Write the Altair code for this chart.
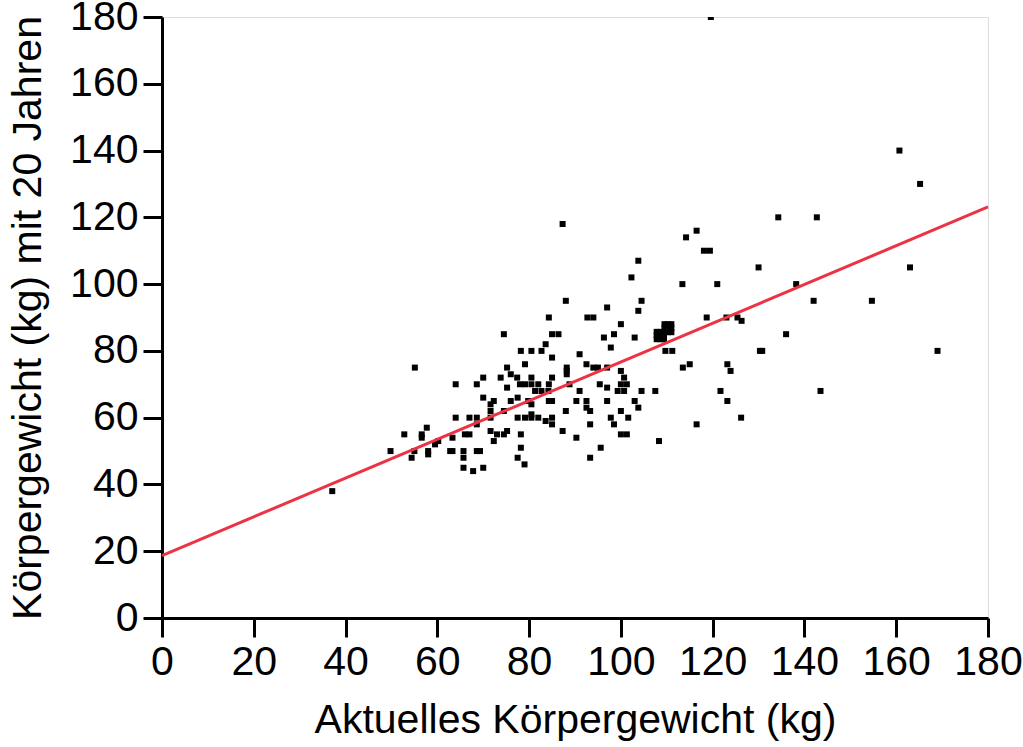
import altair as alt
import pandas as pd

# Current body weight (kg)
x_vals = [
    55.1, 64, 68.6, 64, 67, 68.6, 68.6, 57.7, 52.8, 56.6, 56.6, 60.2, 59.5, 63.3, 66, 67,
    49.8, 55, 54.4, 58, 58, 62.8, 63.3, 65.7, 65.7, 65.7, 67.8, 68.6, 37.1,
    88, 97, 84.3, 92.7, 94, 100, 74.5, 85, 86.4, 96.3, 98.5, 83.6, 97.8, 78.2, 80.5, 82.7,
    91, 79.1, 85, 92.5, 94, 95, 97, 88.2, 88.2, 88.2, 75.2, 100, 76, 70, 73.8, 77.4, 80.5,
    85, 100.7, 78, 79.1, 80.5, 82, 84.3, 88.8, 95.4, 97, 100, 101.3, 75.2, 81.3, 82.7, 84.2,
    91, 99.3, 100.7, 70, 77.5, 72.3, 76, 79.8, 84.3, 85, 90.3, 92.5, 97, 71.6, 71.6, 80.5,
    92.5, 93.3, 74.5, 88, 100, 71.6, 77.5, 79.1, 80.5, 82, 80.5, 83.6, 85, 85, 97.8, 98.5,
    101.6, 93.3, 71.6, 73, 74.5, 75.2, 78.2, 87.3, 90.3, 100, 101.3, 72.3, 69.3, 78.2, 95.6,
    77.5, 93.3, 79, 70,
    104.5, 103.8,
    109.5, 110.2, 111, 109.5, 110.2, 111, 109.5, 110.2, 111,
    107.8, 108.6, 109.4, 107.8, 108.6, 109.4, 107.8, 108.6, 109.4,
    118.7, 123, 125.4, 126.3, 103, 109.7, 111.2, 130.3, 130.8,
    113.5, 115, 123.2, 123.9, 104.5, 107.5, 121.7, 123.2, 103, 103.8, 126.2, 116.5, 108.3,
    87.3, 116.5, 114.2, 118.1, 119.4, 103.8, 102.3, 113.4, 121, 130, 134.3,
    160.7, 165.2, 142.7, 163, 138.2, 142, 154.7, 136, 169, 143.5,
    119.6,
]

# Body weight at age 20 (kg)
y_vals = [
    75, 70, 70, 60, 60, 60, 58, 57, 55, 55, 54, 53, 52, 54, 55, 55,
    50, 50, 48, 50, 49, 50, 50, 50, 48, 45, 44, 50, 38,
    95, 93, 90, 90, 90, 88, 85, 85, 85, 84, 85, 82, 81, 80, 80, 80,
    79, 76, 78, 76, 75, 75, 75, 75, 74, 73, 75, 74, 73, 72, 72, 72, 72,
    72, 72, 70, 70, 70, 70, 70, 70, 70, 69, 70, 70, 69, 68, 68, 68,
    68, 68, 68, 66, 66, 65, 65, 65, 65, 65, 65, 65, 65, 64, 62, 64,
    63, 62, 62, 62, 62, 60, 60, 60, 60, 60, 61, 59, 60, 58, 60, 58,
    60, 58, 56, 55, 55, 56, 55, 56, 54, 55, 55, 53, 50, 51, 51,
    48, 48, 46, 45,
    95, 92,
    85.6, 85.6, 85.6, 86.8, 86.8, 86.8, 88, 88, 88,
    83.5, 83.5, 83.5, 84.6, 84.6, 84.6, 85.7, 85.7, 85.7,
    90, 90, 90, 89, 84, 80, 80, 80, 80,
    75, 76, 76, 74, 68, 68, 68, 65, 65, 63, 60, 58, 53,
    118, 116, 114, 110, 110, 107, 102, 100, 100, 105, 120,
    140, 130, 120, 105, 100, 95, 95, 85, 80, 68,
    180,
]

# Regression line end points
line_x = [0, 180]
line_y = [18.7, 123.1]

tick_vals = [0, 20, 40, 60, 80, 100, 120, 140, 160, 180]

pts = pd.DataFrame({"x": x_vals, "y": y_vals})
ln = pd.DataFrame({"x": line_x, "y": line_y})

FONT = "Liberation Sans"
FS = 41

xscale = alt.Scale(domain=[0, 180], nice=False, zero=False)
yscale = alt.Scale(domain=[0, 180], nice=False, zero=False)

xaxis = alt.Axis(
    values=tick_vals, title="Aktuelles Körpergewicht (kg)", grid=False,
    labelFont=FONT, labelFontSize=FS, labelColor="black", labelPadding=5,
    titleFont=FONT, titleFontSize=FS, titleColor="black", titleFontWeight="normal",
    titlePadding=18, tickSize=19, tickWidth=3, tickColor="black",
    domainColor="black", domainWidth=3, labelFlush=False, labelOverlap=False,
)
yaxis = alt.Axis(
    values=tick_vals, title="Körpergewicht (kg) mit 20 Jahren", grid=False,
    labelFont=FONT, labelFontSize=FS, labelColor="black", labelPadding=5,
    titleFont=FONT, titleFontSize=FS, titleColor="black", titleFontWeight="normal",
    titlePadding=20, tickSize=19, tickWidth=3, tickColor="black",
    domainColor="black", domainWidth=3, labelFlush=False, labelOverlap=False,
)

points = alt.Chart(pts).mark_square(size=36, color="black", opacity=1, clip=True).encode(
    x=alt.X("x:Q", scale=xscale, axis=xaxis),
    y=alt.Y("y:Q", scale=yscale, axis=yaxis),
)

line = alt.Chart(ln).mark_line(color="#ec3344", strokeWidth=3).encode(
    x=alt.X("x:Q", scale=xscale),
    y=alt.Y("y:Q", scale=yscale),
)

chart = (
    alt.layer(points, line)
    .properties(
        width=826,
        height=601,
        autosize=alt.AutoSizeParams(type="none"),
        padding={"left": 162, "top": 17, "right": 35, "bottom": 129},
    )
    .configure_view(stroke="black", strokeWidth=3)
    .configure(background="white")
)

chart.save("out.html", embed_options={"renderer": "svg", "actions": False})
